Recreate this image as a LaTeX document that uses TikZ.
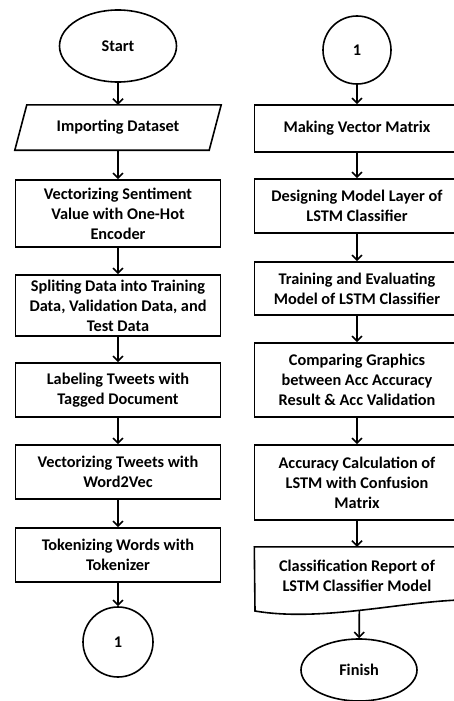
\documentclass[tikz,border=0pt]{standalone}
\usepackage{fontspec}
\setmainfont{Carlito}
\usetikzlibrary{arrows.meta,shapes.geometric}
\begin{document}
\begin{tikzpicture}[x=1pt,y=-1pt,
  every node/.style={font=\bfseries\fontsize{16.3}{20}\selectfont, align=center, inner sep=0pt},
  proc/.style={draw, line width=1.6pt, minimum width=205pt},
  term/.style={draw, ellipse, line width=1.6pt},
  conn/.style={draw, circle, line width=1.6pt},
  arr/.style={-{Straight Barb[length=5pt,width=10pt]}, line width=1.6pt},
  outline/.style={line width=1.6pt}]
\clip (0,0) rectangle (454,701);
% left column
\node[term, minimum width=117pt, minimum height=72pt] (start) at (118,46) {Start};
\node[minimum width=206pt, minimum height=45pt] (imp) at (118,127.5) {Importing Dataset};
\draw[outline] ([xshift=12pt]imp.north west) -- (imp.north east) -- ([xshift=-12pt]imp.south east) -- (imp.south west) -- cycle;
\node[proc, minimum height=67pt] (b1) at (118,213.5) {Vectorizing Sentiment\\Value with One-Hot\\Encoder};
\node[proc, minimum height=61pt] (b2) at (118,305.5) {Spliting Data into Training\\Data, Validation Data, and\\Test Data};
\node[proc, minimum height=54pt] (b3) at (118,390) {Labeling Tweets with\\Tagged Document};
\node[proc, minimum height=54pt] (b4) at (118,472) {Vectorizing Tweets with\\Word2Vec};
\node[proc, minimum height=54pt] (b5) at (118,555) {Tokenizing Words with\\Tokenizer};
\node[conn, minimum size=70pt] (c1) at (118,642) {1};
\draw[arr] (start) -- (imp);
\draw[arr] (imp) -- (b1);
\draw[arr] (b1) -- (b2);
\draw[arr] (b2) -- (b3);
\draw[arr] (b3) -- (b4);
\draw[arr] (b4) -- (b5);
\draw[arr] (b5) -- (c1);
% right column
\node[conn, minimum size=68pt] (c2) at (357,50) {1};
\node[proc, minimum height=47pt] (r1) at (357,128.5) {Making Vector Matrix};
\node[proc, minimum height=54pt] (r2) at (357,206) {Designing Model Layer of\\LSTM Classifier};
\node[proc, minimum height=53pt] (r3) at (357,288.5) {Training and Evaluating\\Model of LSTM Classifier};
\node[proc, minimum height=74pt] (r4) at (357,380) {Comparing Graphics\\between Acc Accuracy\\Result \& Acc Validation};
\node[proc, minimum height=75pt] (r5) at (357,482.5) {Accuracy Calculation of\\LSTM with Confusion\\Matrix};
\node[minimum width=205pt, minimum height=58pt] (r6) at (357,576) {Classification Report of\\LSTM Classifier Model};
\draw[outline] (255,611) -- (r6.north west) -- (r6.north east) -- (459.5,600)
  .. controls (400,602) and (320,622) .. (255,611) coordinate[pos=0.5] (docb) -- cycle;
\node[term, minimum width=116pt, minimum height=62pt] (fin) at (359,670) {Finish};
\draw[arr] (c2) -- (r1);
\draw[arr] (r1) -- (r2);
\draw[arr] (r2) -- (r3);
\draw[arr] (r3) -- (r4);
\draw[arr] (r4) -- (r5);
\draw[arr] (r5) -- (r6.north);
\draw[arr] (docb) -- (fin);
\end{tikzpicture}
\end{document}
